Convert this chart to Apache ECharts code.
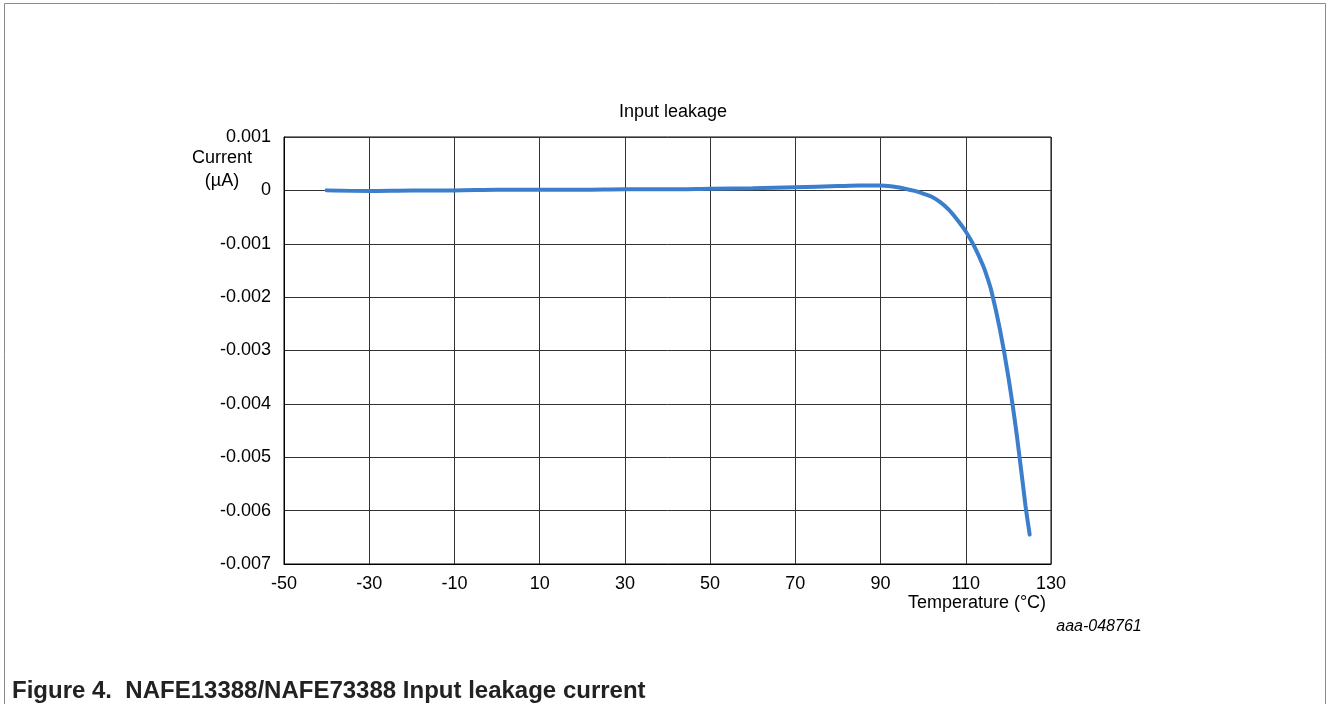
<!DOCTYPE html>
<html><head><meta charset="utf-8">
<script src="https://cdn.jsdelivr.net/npm/echarts@6/dist/echarts.min.js"></script>
<style>html,body{margin:0;padding:0;background:#fff}#c{width:1328px;height:704px}</style>
</head><body><div id="c"></div>
<script>
const temperatures = [-40, -30, -20, -10, 0, 10, 20, 30, 40, 50, 60, 70, 80, 85, 90, 94, 98, 100, 102, 104, 106, 108, 110, 112, 114, 115, 116, 118, 120, 122, 124, 125];
const currents = [0, -0.00001, 0, 0, 0.00001, 0.00001, 0.00001, 0.00002, 0.00002, 0.00003, 0.00004, 0.00006, 0.00008, 0.00009, 0.00009, 0.00006, -0.00001, -0.00006, -0.00012, -0.00022, -0.00036, -0.00055, -0.00077, -0.00105, -0.0014, -0.00162, -0.00188, -0.0026, -0.0035, -0.0046, -0.0059, -0.00645];
const xTicks = { min: -50, max: 130, interval: 20 };
const yTicks = { min: -0.007, max: 0.001, interval: 0.001 };
const chartTitle = 'Input leakage';
const yName = 'Current\n(µA)';
const xName = 'Temperature (°C)';
const figCode = 'aaa-048761';
const caption = 'Figure 4.  NAFE13388/NAFE73388 Input leakage current';

const font = '"Liberation Sans", Arial, sans-serif';
const chart = echarts.init(document.getElementById('c'), null, { renderer: 'canvas' });
chart.setOption({
  animation: false,
  title: { text: chartTitle, left: 668, top: 98, textAlign: 'center',
    textStyle: { fontFamily: font, fontSize: 18, fontWeight: 'normal', color: '#000' } },
  grid: { left: 284, top: 137, width: 767, height: 427, show: true, borderColor: '#000', borderWidth: 1, containLabel: false },
  xAxis: { type: 'value', min: xTicks.min, max: xTicks.max, interval: xTicks.interval,
    axisLine: { show: true, onZero: false, lineStyle: { color: '#000' } }, axisTick: { show: false },
    axisLabel: { fontFamily: font, fontSize: 18, color: '#000', margin: 11 },
    splitLine: { show: true, lineStyle: { color: '#333', width: 1 } } },
  yAxis: { type: 'value', min: yTicks.min, max: yTicks.max, interval: yTicks.interval,
    axisLine: { show: true, onZero: false, lineStyle: { color: '#000' } }, axisTick: { show: false },
    axisLabel: { fontFamily: font, fontSize: 18, color: '#000', margin: 13,
      formatter: v => Math.abs(v) < 1e-9 ? '0' : v.toFixed(3) },
    splitLine: { show: true, lineStyle: { color: '#333', width: 1 } } },
  series: [{ type: 'line', data: temperatures.map((t, i) => [t, currents[i]]), smooth: 0.3, showSymbol: false,
    lineStyle: { color: '#3b7fcc', width: 4, cap: 'round' } }],
  graphic: [
    { type: 'rect', shape: { x: 4.5, y: 3.5, width: 1321, height: 720 }, style: { fill: 'none', stroke: '#8a8a8a', lineWidth: 1 }, silent: true },
    { type: 'text', x: 222, y: 147, style: { text: yName, font: '18px ' + font, fill: '#000', align: 'center', lineHeight: 23 } },
    { type: 'text', x: 977, y: 594, style: { text: xName, font: '18px ' + font, fill: '#000', align: 'center' } },
    { type: 'text', x: 1099, y: 619, style: { text: figCode, font: 'italic 16px ' + font, fill: '#000', align: 'center' } },
    { type: 'text', x: 12, y: 679, style: { text: caption, font: 'bold 24px ' + font, fill: '#222', align: 'left' } }
  ]
});
</script></body></html>
